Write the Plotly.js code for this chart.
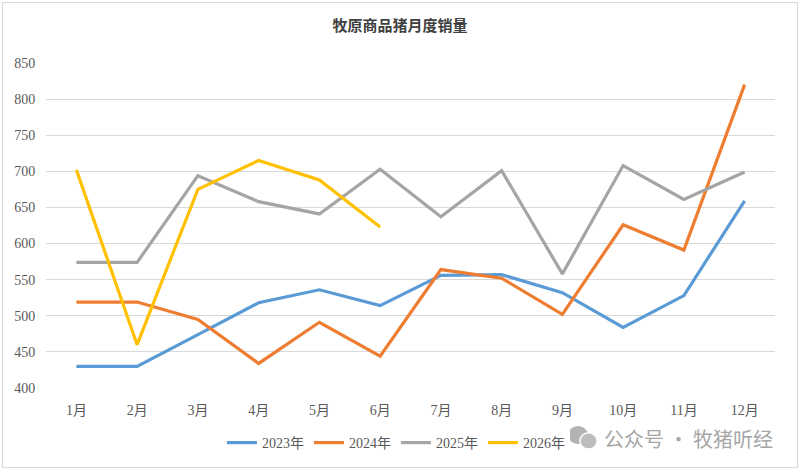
<!DOCTYPE html>
<html>
<head>
<meta charset="utf-8">
<script src="https://cdn.plot.ly/plotly-3.0.1.min.js"></script>
<style>
    body { margin: 0; background: #fff; }
    #chart { position: absolute; left: 2px; top: 2px; width: 794px; height: 464px; border: 1px solid #d9d9d9; }
</style>
</head>
<body>
<div id="chart"></div>
<script>
    // 牧原商品猪月度销量 (万头)
    var months = ['1月', '2月', '3月', '4月', '5月', '6月', '7月', '8月', '9月', '10月', '11月', '12月'];
    var sales2023 = [430, 430, 474, 518, 536, 514, 556, 557, 532, 484, 528, 659];
    var sales2024 = [519, 519, 495, 434, 491, 444, 564, 552, 502, 626, 591, 820];
    var sales2025 = [574, 574, 694, 658, 641, 703, 637, 701, 558, 708, 661, 699];
    var sales2026 = [702, 460, 675, 715, 688, 623];

    var serif = '"Liberation Serif", "Times New Roman", "Noto Sans CJK SC", serif';

    function line(name, y, color) {
        return {
            x: months.slice(0, y.length),
            y: y,
            name: name,
            type: 'scatter',
            mode: 'lines',
            line: {color: color, width: 3.2},
            hoverinfo: 'x+y+name'
        };
    }

    var data = [
        line('2023年', sales2023, '#5b9bd5'),
        line('2024年', sales2024, '#ed7d31'),
        line('2025年', sales2025, '#a5a5a5'),
        line('2026年', sales2026, '#ffc000')
    ];

    var layout = {
        width: 794,
        height: 464,
        paper_bgcolor: '#fff',
        plot_bgcolor: '#fff',
        margin: {t: 60, r: 22, l: 43, b: 79, autoexpand: false},
        font: {family: serif, size: 14, color: '#595959'},
        title: {
            text: '<b>牧原商品猪月度销量</b>',
            font: {family: '"Noto Sans CJK SC", sans-serif', size: 15, color: '#404040'},
            x: 0.5,
            xanchor: 'center',
            y: 0.95,
            yanchor: 'middle'
        },
        xaxis: {
            type: 'category',
            range: [-0.5, 11.5],
            showgrid: false,
            zeroline: false,
            showline: false,
            ticks: 'outside',
            ticklen: 9,
            tickcolor: 'rgba(0,0,0,0)',
            tickfont: {family: serif, size: 14, color: '#595959'}
        },
        yaxis: {
            range: [400, 850],
            dtick: 50,
            showgrid: true,
            gridcolor: '#d9d9d9',
            gridwidth: 1,
            zeroline: false,
            showline: false,
            ticks: 'outside',
            ticklen: 7,
            tickcolor: 'rgba(0,0,0,0)',
            tickfont: {family: serif, size: 14, color: '#595959'}
        },
        showlegend: true,
        legend: {
            orientation: 'h',
            x: 0.48,
            xanchor: 'center',
            y: -0.12,
            yanchor: 'top',
            font: {family: serif, size: 14, color: '#595959'},
            itemwidth: 30,
            tracegroupgap: 0
        },
        annotations: [{
            xref: 'paper', yref: 'paper',
            x: 1.0, y: -0.154,
            xanchor: 'right', yanchor: 'middle',
            text: '公众号 · 牧猪听经',
            showarrow: false,
            font: {family: '"Noto Sans CJK SC", sans-serif', size: 20, color: '#a6a6a6'}
        }],
        shapes: [
            {type: 'circle', xref: 'paper', yref: 'paper', x0: 0.716, x1: 0.7435, y0: -0.172, y1: -0.117,
             fillcolor: '#b3b3b3', line: {width: 0}, layer: 'above'},
            {type: 'circle', xref: 'paper', yref: 'paper', x0: 0.7325, x1: 0.756, y0: -0.188, y1: -0.138,
             fillcolor: '#bdbdbd', line: {color: '#fff', width: 1.5}, layer: 'above'}
        ]
    };

    var config = {displayModeBar: false};
    Plotly.newPlot('chart', data, layout, config);
</script>
</body>
</html>
